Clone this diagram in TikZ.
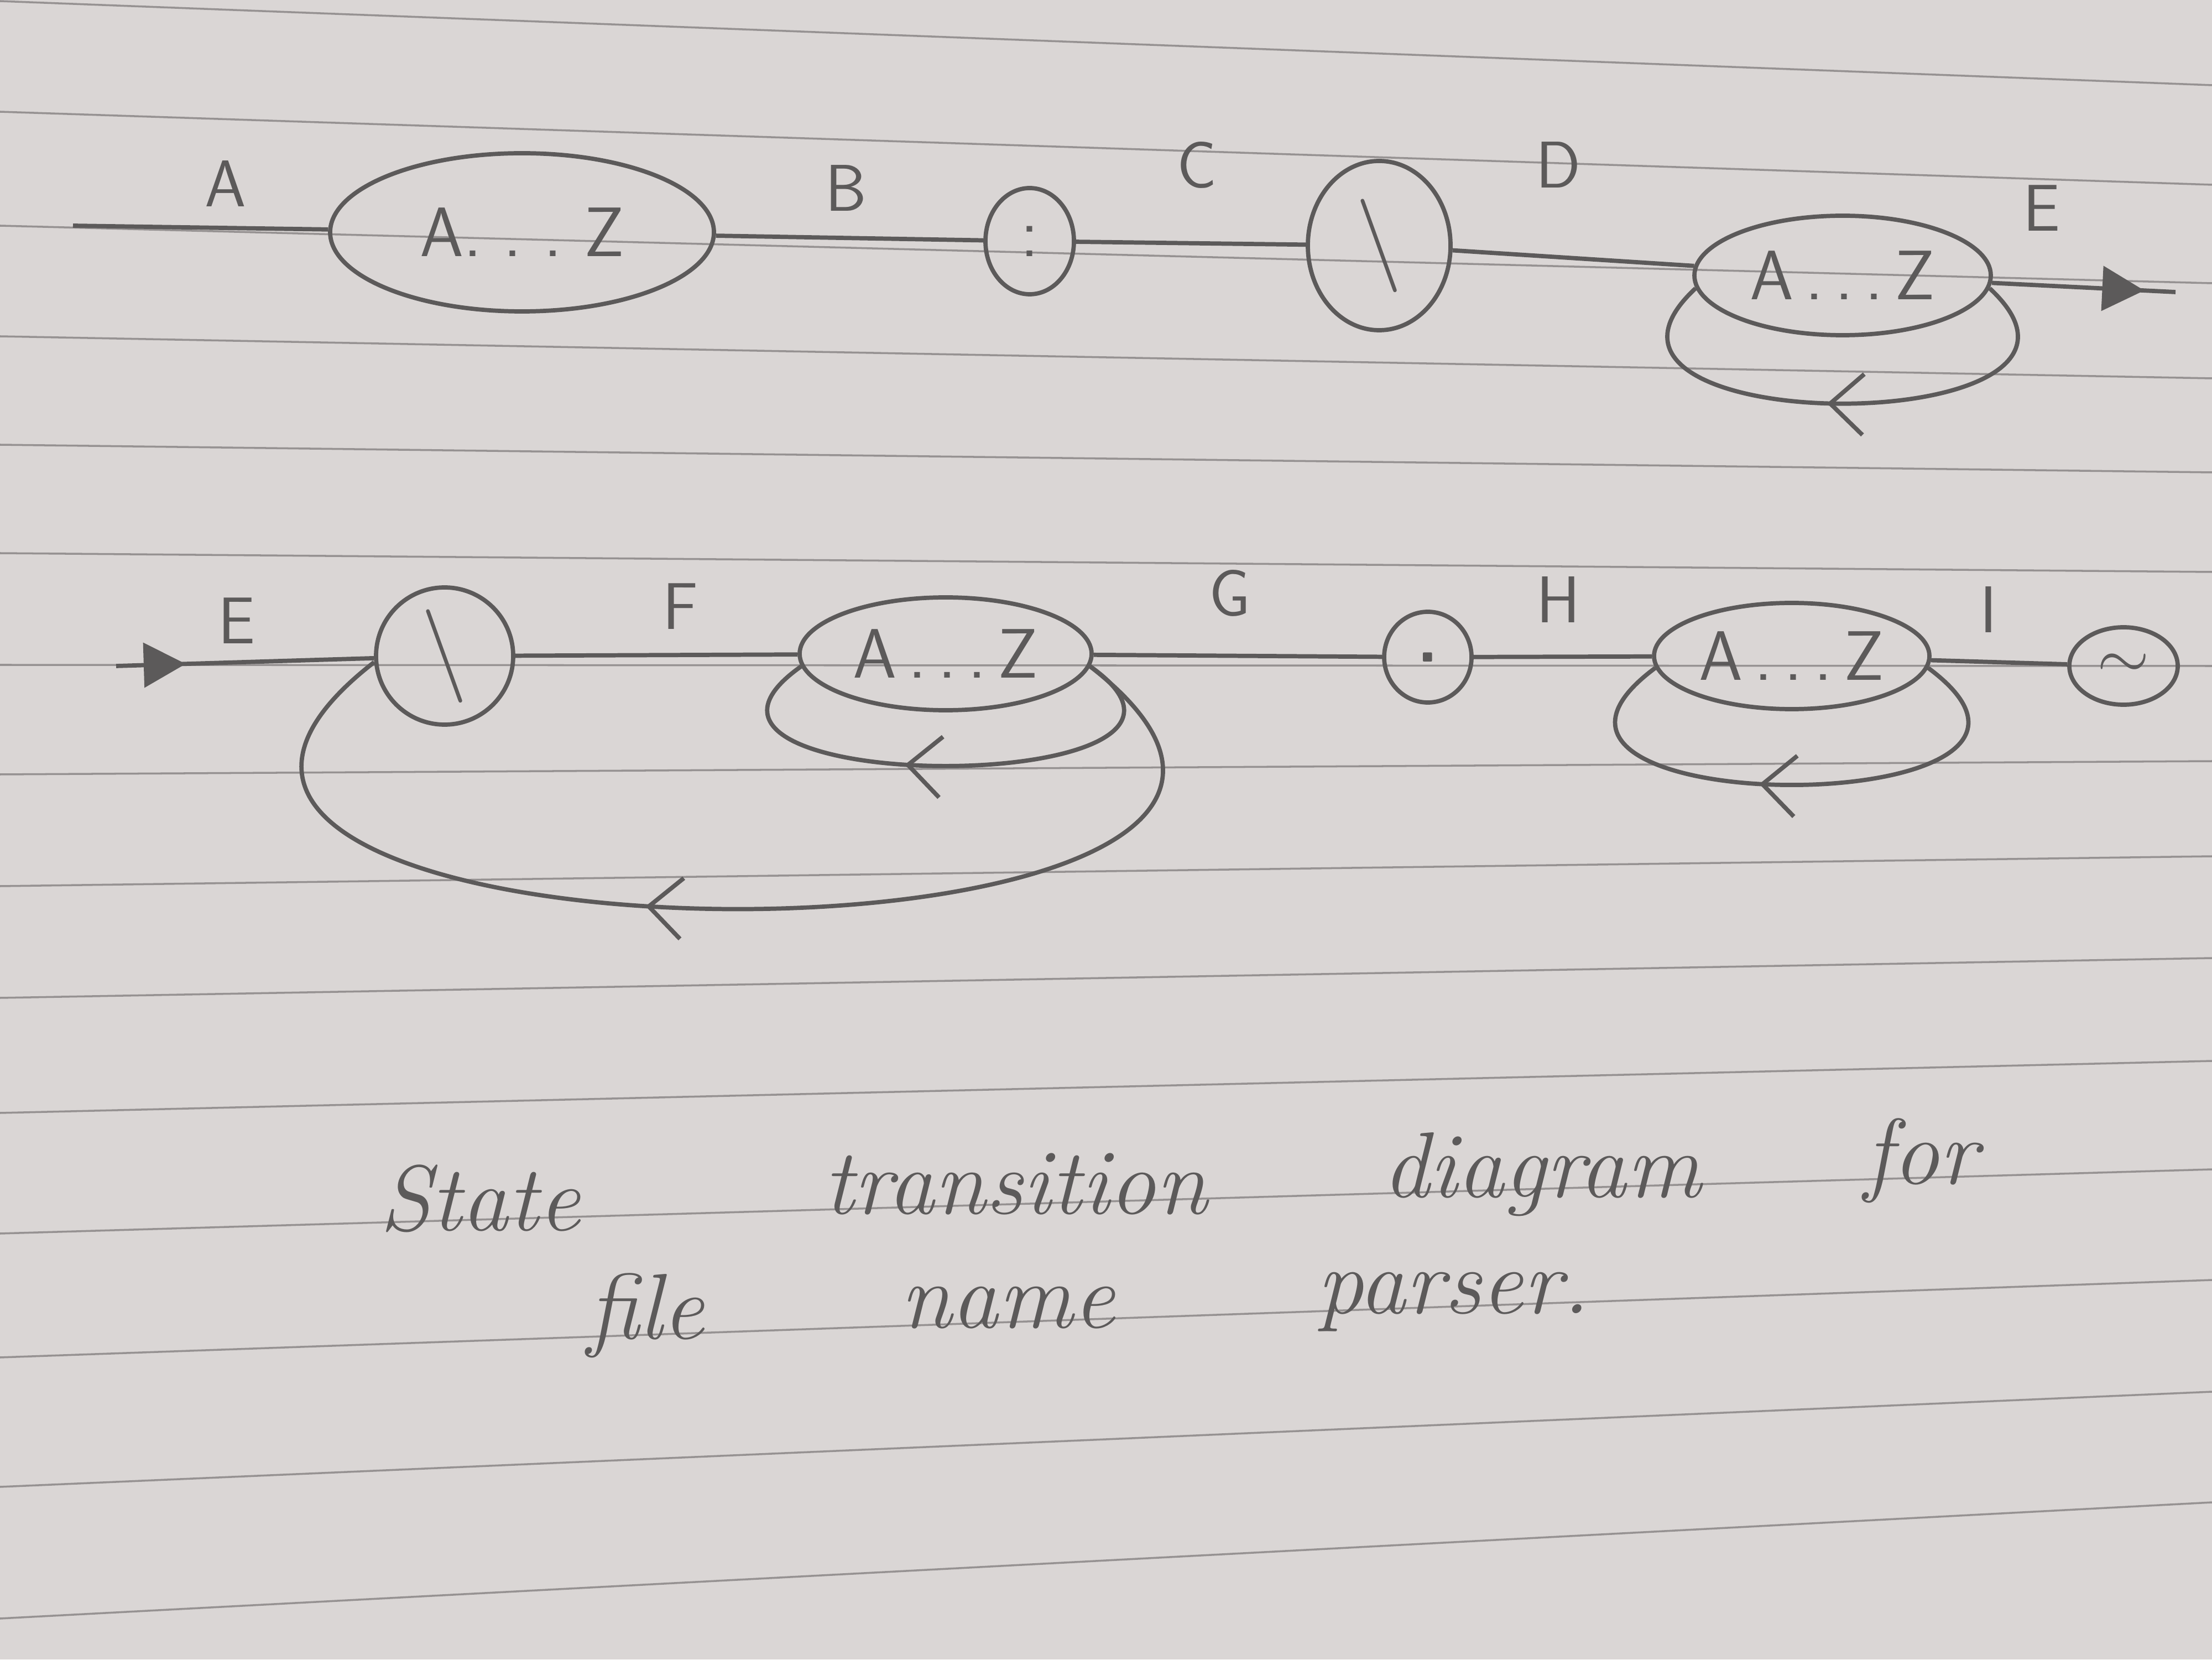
\documentclass[tikz,border=0pt]{standalone}
\usepackage{xcolor}
\usepackage{tikz}
\usetikzlibrary{arrows.meta, shapes.geometric, decorations.markings}

\definecolor{paper}{RGB}{218,214,213}
\definecolor{ruling}{RGB}{150,146,146}
\definecolor{pencil}{RGB}{92,90,90}

\tikzset{
  pencil line/.style={color=pencil, line width=1.1pt},
  state/.style={pencil line, draw, ellipse, inner sep=0pt, text=pencil,
    font=\fontsize{18}{21}\selectfont\sffamily},
  tlabel/.style={text=pencil, font=\fontsize{17}{20}\selectfont\sffamily},
  capword/.style={text=pencil, anchor=base, font=\fontsize{24}{28}\selectfont\itshape},
  flow/.style={pencil line, postaction={decorate}, decoration={markings,
    mark=at position #1 with {\arrow{Triangle[length=3.8mm, width=4mm]}}}},
  loopback/.style={pencil line, postaction={decorate}, decoration={markings,
    mark=at position #1 with {\arrow{Straight Barb[length=3mm, width=5.5mm]}}}},
}

\begin{document}
\begin{tikzpicture}
  \useasboundingbox (0,0) rectangle (20,15);
  \clip (0,0) rectangle (20,15);
  \fill[paper] (0,0) rectangle (20,15);

  % Ruled paper
  \foreach \ly/\ry in {14.99/14.23, 13.99/13.33, 12.96/12.44, 11.96/11.58, 10.98/10.73,
      10.0/9.83, 8.99/8.98, 8.0/8.12, 6.99/7.26, 5.98/6.34, 4.94/5.41, 3.85/4.43,
      2.73/3.43, 1.56/2.42, 0.37/1.42}
    \draw[ruling, line width=0.5pt] (0,\ly) -- (20,\ry);

  % Row 1
  \coordinate (in1) at (0.66,12.96);
  \node[state, minimum width=3.47cm, minimum height=1.43cm] (az1) at (4.72,12.90) {A.\ .\ .\ Z};
  \node[state, minimum width=0.80cm, minimum height=0.96cm] (colon) at (9.31,12.82) {:};
  \node[state, minimum width=1.29cm, minimum height=1.53cm] (bslash1) at (12.47,12.78)
    {\fontsize{24}{28}\selectfont\textbackslash};
  \node[state, minimum width=2.68cm, minimum height=1.08cm] (az2) at (16.66,12.51) {A\,.\,.\,.\,Z};
  \coordinate (out1) at (19.67,12.36);

  \draw[pencil line] (in1) -- (az1);
  \draw[pencil line] (az1) -- (colon);
  \draw[pencil line] (colon) -- (bslash1);
  \draw[pencil line] (bslash1) -- (az2);
  \draw[flow=0.83] (az2) -- (out1);
  \draw[loopback=0.53] (az2.-5) .. controls +(1.5,-1.39) and +(-1.5,-1.39) .. (az2.185);

  \node[tlabel] (lblA) at (2.04,13.34) {A};
  \node[tlabel] (lblB) at (7.65,13.30) {B};
  \node[tlabel] (lblC) at (10.82,13.51) {C};
  \node[tlabel] (lblD) at (14.09,13.51) {D};
  \node[tlabel] (lblE) at (18.46,13.12) {E};

  % Row 2
  \coordinate (in2) at (1.05,8.98);
  \node[state, minimum width=1.24cm, minimum height=1.24cm] (bslash2) at (4.02,9.07)
    {\fontsize{24}{28}\selectfont\textbackslash};
  \node[state, minimum width=2.64cm, minimum height=1.02cm] (az3) at (8.55,9.09) {A\,.\,.\,.\,Z};
  \node[state, minimum width=0.79cm, minimum height=0.82cm] (dot) at (12.91,9.06) {\textbf{.}};
  \node[state, minimum width=2.49cm, minimum height=0.96cm] (az4) at (16.20,9.07) {A\,.\,.\,.\,Z};
  \node[state, minimum width=0.98cm, minimum height=0.70cm] (tilde) at (19.20,8.98) {$\sim$};

  \draw[flow=0.27] (in2) -- (bslash2);
  \draw[pencil line] (bslash2) -- (az3);
  \draw[pencil line] (az3) -- (dot);
  \draw[pencil line] (dot) -- (az4);
  \draw[pencil line] (az4) -- (tilde);
  \draw[loopback=0.58] (az3.-5) .. controls +(1.7,-1.2) and +(-1.7,-1.2) .. (az3.185);
  \draw[loopback=0.57] (az3.-5) .. controls +(3.8,-2.95) and +(-3.8,-2.95) .. (bslash2.185);
  \draw[loopback=0.56] (az4.-5) .. controls +(1.9,-1.41) and +(-1.9,-1.41) .. (az4.185);

  \node[tlabel] (lblE2) at (2.14,9.39) {E};
  \node[tlabel] (lblF) at (6.15,9.52) {F};
  \node[tlabel] (lblG) at (11.12,9.64) {G};
  \node[tlabel] (lblH) at (14.09,9.58) {H};
  \node[tlabel] (lblI) at (17.98,9.49) {I};

  % Caption
  \node[capword] (w1) at (4.34,3.88) {State};
  \node[capword] (w2) at (9.18,4.03) {transition};
  \node[capword] (w3) at (13.94,4.18) {diagram};
  \node[capword] (w4) at (17.37,4.30) {for};
  \node[capword] (w5) at (5.84,2.90) {file};
  \node[capword] (w6) at (9.11,3.00) {name};
  \node[capword] (w7) at (13.14,3.13) {parser.};
\end{tikzpicture}
\end{document}
